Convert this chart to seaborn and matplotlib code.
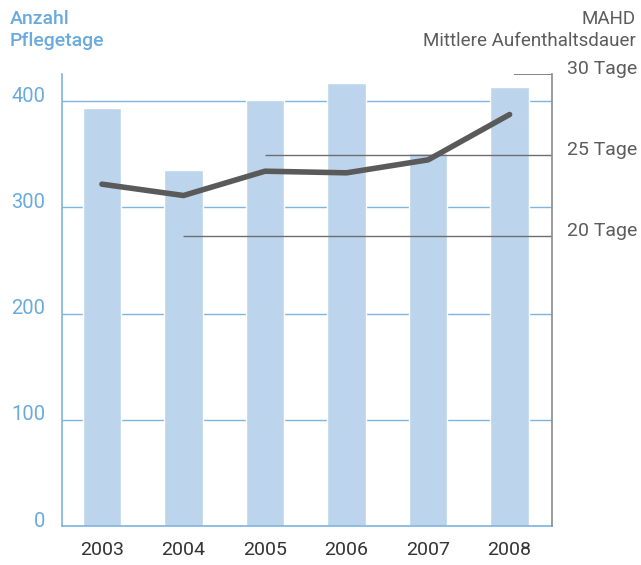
import numpy as np
import pandas as pd
import matplotlib.pyplot as plt
import matplotlib.transforms as mtrans
import seaborn as sns

# Daten
jahre = ["2003", "2004", "2005", "2006", "2007", "2008"]
pflegetage = [394, 335, 401, 417, 351, 413]
mahd = [23.2, 22.5, 24.0, 23.9, 24.7, 27.5]

links_ticks = [0, 100, 200, 300, 400]
rechts_ticks = [20, 25, 30]
rechts_labels = ["20 Tage", "25 Tage", "30 Tage"]

farben = {
    "balken": "#bcd5ec",
    "blau": "#7db5e0",
    "text_blau": "#6aaade",
    "linie": "#5a5a5a",
    "grau": "#6e6e6e",
    "text_grau": "#5c5c5c",
}

sns.set_style("white")
plt.rcParams["font.family"] = ["Roboto", "DejaVu Sans"]

df = pd.DataFrame({"Jahr": jahre, "Pflegetage": pflegetage, "MAHD": mahd})

fig = plt.figure(figsize=(6.41, 5.65), dpi=100)
ax = fig.add_axes([62 / 641, 39 / 565, 490 / 641, 452 / 565])

sns.barplot(data=df, x="Jahr", y="Pflegetage", color=farben["balken"],
            saturation=1, width=0.47, ax=ax, zorder=2)
ax.set_xlim(-0.49, 5.52)
ax.set_ylim(0, 425.6)
ax.set_axisbelow(True)
ax.set_yticks(links_ticks)
ax.yaxis.grid(True, color=farben["blau"], linewidth=1)
ax.set_xlabel("")
ax.set_ylabel("")
ax.tick_params(axis="y", length=0, pad=12, labelsize=14.5, labelcolor=farben["text_blau"])
ax.tick_params(axis="x", length=0, pad=11, labelsize=14, labelcolor="#333333")
for side in ["top", "right"]:
    ax.spines[side].set_visible(False)
for side in ["left", "bottom"]:
    ax.spines[side].set_color(farben["blau"])
    ax.spines[side].set_linewidth(1.2)

# Labels leicht über die Linie schieben
off = mtrans.ScaledTranslation(0, 5 / 72, fig.dpi_scale_trans)
for lab in ax.get_yticklabels():
    lab.set_transform(lab.get_transform() + off)

# Zweite Achse: MAHD
ax2 = ax.twinx()
sns.lineplot(x=np.arange(len(jahre)), y=mahd, color=farben["linie"],
             linewidth=4, ax=ax2, solid_capstyle="round", zorder=5)
ax2.set_ylim(2.1, 30)
ax2.set_xlim(-0.49, 5.52)
ax2.set_yticks(rechts_ticks)
ax2.set_yticklabels(rechts_labels)
ax2.tick_params(axis="y", length=0, pad=11, labelsize=14, labelcolor=farben["text_grau"])
ax2.hlines(20, 1.0, 5.52, color=farben["grau"], linewidth=1)
ax2.hlines(25, 2.0, 5.52, color=farben["grau"], linewidth=1)
ax2.hlines(30, 5.06, 5.52, color=farben["grau"], linewidth=1.2)
for side in ["top", "left", "bottom"]:
    ax2.spines[side].set_visible(False)
ax2.spines["right"].set_color("#8a8a8a")
ax2.spines["right"].set_linewidth(1.2)
for lab in ax2.get_yticklabels():
    lab.set_transform(lab.get_transform() + off)

# Achsentitel
fig.text(10 / 641, 1 - 10 / 565, "Anzahl\nPflegetage", ha="left", va="top",
         fontsize=14, fontweight="medium", color=farben["text_blau"], linespacing=1.25)
fig.text(636 / 641, 1 - 10 / 565, "MAHD\nMittlere Aufenthaltsdauer", ha="right", va="top",
         fontsize=13.5, color=farben["text_grau"], linespacing=1.25, multialignment="right")

fig.savefig("out.png", dpi=100)
